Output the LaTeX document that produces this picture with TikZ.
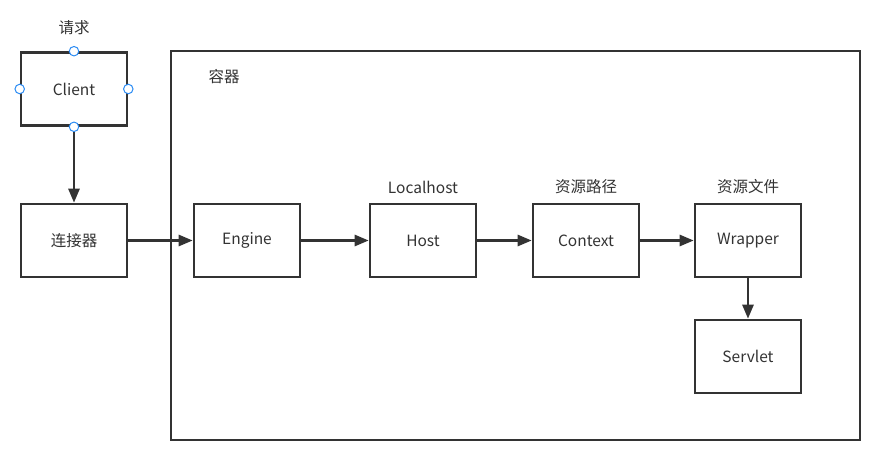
\documentclass[tikz,border=0pt]{standalone}
\usepackage{fontspec}
\setmainfont{Noto Sans CJK SC}
\usetikzlibrary{arrows.meta,positioning}
\definecolor{ink}{HTML}{333333}
\definecolor{handle}{HTML}{2C8CF4}
\tikzset{
    box/.style={draw=ink, line width=2.6pt, minimum width=106pt, minimum height=73pt, inner sep=0pt, text=ink},
    lbl/.style={text=ink, inner sep=0pt},
    link/.style={draw=ink, line width=2.6pt, -{Triangle[length=14pt,width=11pt]}},
    knob/.style={circle, draw=handle, fill=white, line width=1pt, minimum size=9.5pt, inner sep=0pt}
}
\begin{document}
\begin{tikzpicture}[x=1pt,y=-1pt,font=\fontsize{15.5}{18}\selectfont]
\useasboundingbox (0,0) rectangle (886,460);
% container
\draw[ink, line width=2.6pt](171,51) rectangle (860,440);
\node[lbl] (rongqi) at (224,77) {容器};

\node[box] (client) at (74,89) {Client};
\node[lbl, above=16pt of client] (qingqiu) {请求};
\node[box] (conn) at (74,240.5) {连接器};

\node[box] (engine) at (247,240.5) {Engine};
\node[box] (host) at (423,240.5) {Host};
\node[box] (context) at (586,240.5) {Context};
\node[box] (wrapper) at (748,240.5) {Wrapper};
\node[box] (servlet) at (748,356.5) {Servlet};

\node[lbl, above=9pt of host] (localhost) {Localhost};
\node[lbl, above=9pt of context] (ziyuanlujing) {资源路径};
\node[lbl, above=9pt of wrapper] (ziyuanwenjian) {资源文件};

\draw[link] (client) -- (conn);
\draw[link] (conn) -- (engine);
\draw[link] (engine) -- (host);
\draw[link] (host) -- (context);
\draw[link] (context) -- (wrapper);
\draw[link] (wrapper) -- (servlet);

% handles on Client
\foreach \a in {north,south,east,west}
{
    \node[knob] (knob-\a) at (client.\a) {};
}
\end{tikzpicture}
\end{document}
